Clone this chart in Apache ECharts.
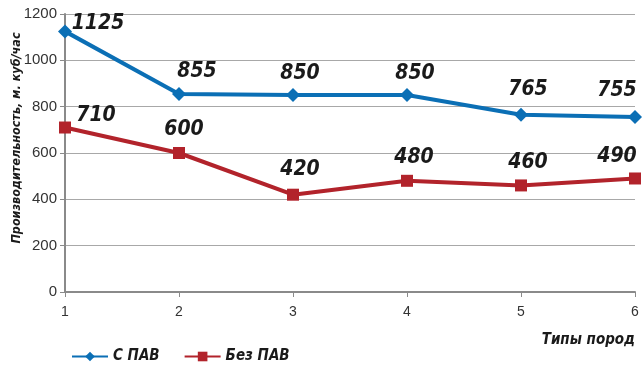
<!DOCTYPE html>
<html>
<head>
<meta charset="utf-8">
<script src="https://cdn.jsdelivr.net/npm/echarts@6/dist/echarts.min.js"></script>
<style>
html,body{margin:0;padding:0;background:#fff;}
#chart{width:642px;height:367px;}
</style>
</head>
<body>
<div id="chart"></div>
<script>
var categories = ['1', '2', '3', '4', '5', '6'];
var withSurf = [1125, 855, 850, 850, 765, 755];
var withoutSurf = [710, 600, 420, 480, 460, 490];
var yTicks = [0, 200, 400, 600, 800, 1000, 1200];

var FONT = '"DejaVu Sans Condensed", "Liberation Sans", Arial, sans-serif';
var TICKFONT = '"Liberation Sans", Arial, sans-serif';

// сдвиги подписей относительно точек
var blueShift = [[33, 15], [18, 0], [7, 1], [8, 1], [7, -3], [-18, -4]];
var redShift = [[31, 10], [5, -2], [7, -4], [7, -2], [7, -1], [-18, 0]];

function makeData(values, shift) {
    var res = [];
    for (var i = 0; i < values.length; i++) {
        res.push({ value: values[i], label: { offset: shift[i] } });
    }
    return res;
}

var labelStyle = {
    show: true,
    position: 'top',
    distance: 5,
    fontFamily: FONT,
    fontSize: 21,
    fontWeight: 'bold',
    fontStyle: 'italic',
    color: '#1a1a1a'
};

var myChart = echarts.init(document.getElementById('chart'));
var option = {
    animation: false,
    grid: {
        left: 65,
        right: 7,
        top: 14,
        bottom: 75,
        outerBoundsMode: 'none'
    },
    legend: {
        bottom: -2,
        left: 66,
        itemWidth: 36,
        itemHeight: 12,
        itemGap: 24,
        textStyle: {
            fontFamily: FONT,
            fontSize: 15,
            fontWeight: 'bold',
            fontStyle: 'italic',
            color: '#1a1a1a'
        },
        data: ['С ПАВ', 'Без ПАВ']
    },
    xAxis: {
        type: 'category',
        boundaryGap: false,
        data: categories,
        name: 'Типы пород',
        nameLocation: 'end',
        nameGap: 0,
        nameTextStyle: {
            fontFamily: FONT,
            fontSize: 15,
            fontWeight: 'bold',
            fontStyle: 'italic',
            color: '#1a1a1a',
            align: 'right',
            verticalAlign: 'top',
            padding: [41, 0, 0, 0]
        },
        axisLine: { lineStyle: { color: '#8a8a8a', width: 2 } },
        axisTick: { show: true, length: 5, lineStyle: { color: '#8a8a8a' } },
        axisLabel: {
            fontFamily: TICKFONT,
            fontSize: 14,
            color: '#333',
            margin: 13
        }
    },
    yAxis: {
        type: 'value',
        min: yTicks[0],
        max: yTicks[yTicks.length - 1],
        interval: 200,
        name: 'Производительность, м. куб/час',
        nameLocation: 'middle',
        nameGap: 42,
        nameMoveOverlap: false,
        nameTextStyle: {
            fontFamily: FONT,
            fontSize: 12.5,
            fontWeight: 'bold',
            fontStyle: 'italic',
            color: '#1a1a1a',
            padding: [0, 0, 0, 30]
        },
        axisLine: { show: true, lineStyle: { color: '#8a8a8a', width: 2 } },
        axisTick: { show: true, length: 5, lineStyle: { color: '#8a8a8a' } },
        axisLabel: {
            fontFamily: TICKFONT,
            fontSize: 15,
            color: '#333',
            margin: 8,
            formatter: function (v) { return String(v); }
        },
        splitLine: { lineStyle: { color: '#a8a8a8', width: 1 } }
    },
    series: [
        {
            name: 'С ПАВ',
            type: 'line',
            data: makeData(withSurf, blueShift),
            symbol: 'diamond',
            symbolSize: 14,
            lineStyle: { width: 4, color: '#0b6fb5' },
            itemStyle: { color: '#0b6fb5' },
            label: labelStyle
        },
        {
            name: 'Без ПАВ',
            type: 'line',
            data: makeData(withoutSurf, redShift),
            symbol: 'rect',
            symbolSize: 12,
            lineStyle: { width: 4, color: '#b2232b' },
            itemStyle: { color: '#b2232b' },
            label: labelStyle
        }
    ]
};
myChart.setOption(option);
</script>
</body>
</html>
